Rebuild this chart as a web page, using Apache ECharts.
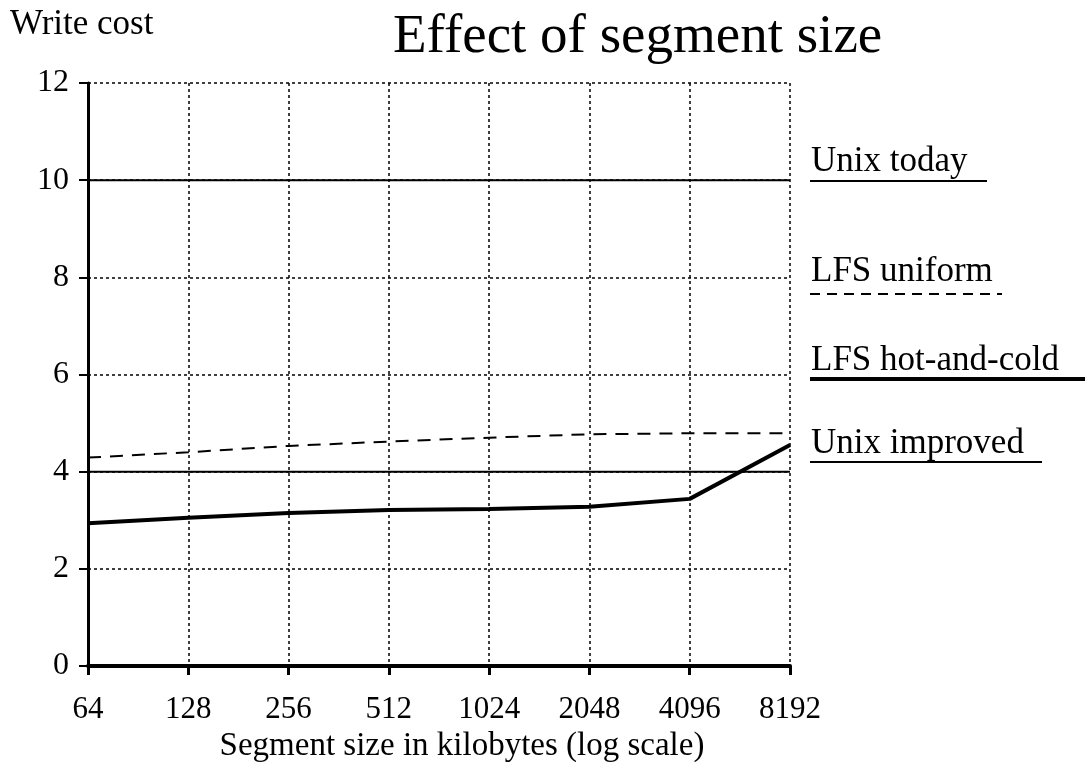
<!DOCTYPE html>
<html>
<head>
<meta charset="utf-8">
<script src="https://cdn.jsdelivr.net/npm/echarts@6/dist/echarts.min.js"></script>
<style>
html,body{margin:0;padding:0;background:#fff;}
#chart{width:1085px;height:762px;}
</style>
</head>
<body>
<div id="chart"></div>
<script>
// ---- data ----
const segmentSizes = ['64', '128', '256', '512', '1024', '2048', '4096', '8192'];
const unixToday    = [10, 10, 10, 10, 10, 10, 10, 10];
const lfsUniform   = [4.29, 4.40, 4.53, 4.62, 4.70, 4.77, 4.79, 4.79];
const lfsHotCold   = [2.94, 3.05, 3.15, 3.21, 3.23, 3.28, 3.44, 4.55];
const unixImproved = [4, 4, 4, 4, 4, 4, 4, 4];
const yTicks = [0, 2, 4, 6, 8, 10, 12];
const seriesNames = ['Unix today', 'LFS uniform', 'LFS hot-and-cold', 'Unix improved'];
const titleText = 'Effect of segment size';
const yName = 'Write cost';
const xName = 'Segment size in kilobytes (log scale)';

const FONT = "'Liberation Serif','Times New Roman',serif";
const chart = echarts.init(document.getElementById('chart'), null, {renderer: 'canvas'});

const gridLeft = 88, gridRight = 790;

function legendEntry(name, textY, lineY, lineEnd, width, dash) {
  return [
    {type: 'text', x: 811, y: textY, z: 10,
     style: {text: name, font: '35px ' + FONT, fill: '#000', align: 'left', verticalAlign: 'middle'}},
    {type: 'line', z: 10, shape: {x1: 810, y1: lineY, x2: lineEnd, y2: lineY},
     style: {stroke: '#000', lineWidth: width, lineDash: dash || null}}
  ];
}

const option = {
  backgroundColor: '#fff',
  animation: false,
  title: [
    {text: titleText, left: 393, top: 10, padding: 0,
     textStyle: {fontFamily: FONT, fontSize: 55, fontWeight: 'normal', color: '#000'}},
    {text: yName, left: 10, top: 7, padding: 0,
     textStyle: {fontFamily: FONT, fontSize: 35, fontWeight: 'normal', color: '#000'}}
  ],
  grid: {left: gridLeft, right: 1085 - gridRight, top: 83, bottom: 96,
         containLabel: false, outerBoundsMode: 'none'},
  xAxis: {
    type: 'category',
    data: segmentSizes,
    boundaryGap: false,
    name: xName,
    nameLocation: 'middle',
    nameGap: 56,
    nameTextStyle: {fontFamily: FONT, fontSize: 33, color: '#000', padding: [0, 0, 0, 46]},
    axisLine: {show: true, lineStyle: {color: '#000', width: 4}},
    axisTick: {show: true, alignWithLabel: true, length: 9, lineStyle: {color: '#000', width: 3}},
    axisLabel: {fontFamily: FONT, fontSize: 31, color: '#000', margin: 28, interval: 0},
    splitLine: {show: true, lineStyle: {color: '#000', width: 1.5, type: [3, 3]}}
  },
  yAxis: {
    type: 'value',
    min: 0, max: 12, interval: 2,
    axisLine: {show: true, lineStyle: {color: '#000', width: 3}},
    axisTick: {show: true, length: 9, lineStyle: {color: '#000', width: 2}},
    axisLabel: {fontFamily: FONT, fontSize: 32, color: '#000', margin: 19,
      formatter: v => (yTicks.indexOf(v) >= 0 ? String(v) : '')},
    splitLine: {show: true, lineStyle: {color: '#000', width: 1.5, type: [3, 3]}}
  },
  series: [
    {name: seriesNames[0], type: 'line', data: unixToday, symbol: 'none', z: 5,
     lineStyle: {color: '#000', width: 2}},
    {name: seriesNames[1], type: 'line', data: lfsUniform, symbol: 'none', z: 5,
     lineStyle: {color: '#000', width: 2, type: [13, 9]}},
    {name: seriesNames[2], type: 'line', data: lfsHotCold, symbol: 'none', z: 6,
     lineStyle: {color: '#000', width: 4}},
    {name: seriesNames[3], type: 'line', data: unixImproved, symbol: 'none', z: 5,
     lineStyle: {color: '#000', width: 2}}
  ],
  graphic: [].concat(
    legendEntry(seriesNames[0], 162, 181, 987, 2),
    legendEntry(seriesNames[1], 272, 294, 1002, 2, [10, 7]),
    legendEntry(seriesNames[2], 361, 379, 1085, 4),
    legendEntry(seriesNames[3], 444, 462, 1042, 2)
  )
};
chart.setOption(option);
</script>
</body>
</html>
